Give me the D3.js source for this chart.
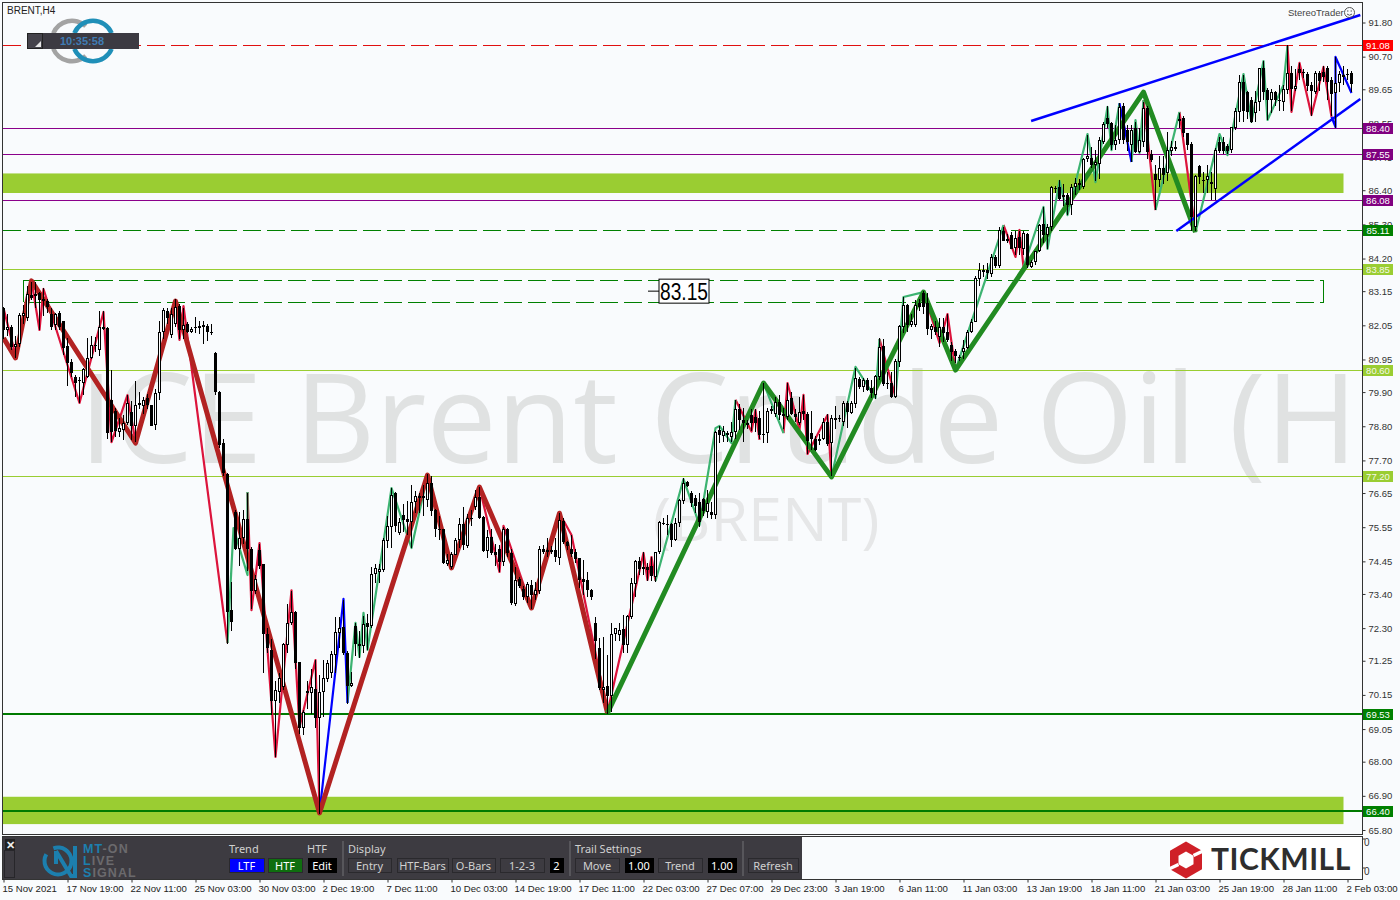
<!DOCTYPE html>
<html><head><meta charset="utf-8">
<script src="https://cdn.jsdelivr.net/npm/d3@7/dist/d3.min.js"></script>
<style>html,body{margin:0;padding:0;background:#f9fbfd;overflow:hidden}svg{display:block}text{font-family:"Liberation Sans",sans-serif}</style>
</head><body><svg id="c" width="1400" height="900"></svg>
<script>
// ---- candle values, one entry per H4 bar ----
const opens=[82.6,81.9,82.0,81.35,81.45,82.35,82.28,83.03,82.98,83.08,
82.82,82.83,82.4,82.05,82.45,82.2,81.37,80.88,80.4,80.3,
80.2,80.4,81.0,81.42,81.25,82.0,81.95,79.65,79.3,78.6,
78.68,78.9,79.27,78.8,79.55,79.45,79.7,79.48,78.83,79.87,
81.85,82.5,81.75,82.08,82.67,81.9,82.1,81.83,82.0,81.95,
82.05,82.03,81.85,81.15,79.9,78.25,77.25,72.88,76.05,74.85,
75.2,75.8,74.85,73.5,74.8,74.35,72.1,71.6,69.95,70.25,
70.4,71.75,72.45,72.82,71.2,69.07,70.27,70.2,70.35,69.4,
70.23,70.65,70.85,71.45,72.15,72.35,71.5,70.43,72.38,71.8,
71.73,72.45,72.38,74.03,74.12,74.17,75.1,75.55,76.65,75.35,
75.95,75.8,75.72,76.35,76.55,76.55,76.42,76.96,76.1,75.5,
75.48,74.38,74.28,74.66,75.14,75.64,74.94,75.84,76.19,76.51,
75.87,74.79,75.24,74.76,74.84,74.44,75.48,74.71,73.07,73.87,
73.55,73.31,73.69,73.37,73.5,74.84,74.82,74.82,74.82,74.57,
75.76,75.08,74.84,74.76,74.55,73.87,73.85,73.53,72.45,71.65,
70.3,70.44,70.1,72.1,72.07,72.26,71.76,72.67,73.72,74.46,
74.28,74.26,74.3,73.96,74.74,75.7,75.66,75.66,75.14,75.67,
76.4,77.0,76.66,76.48,76.37,76.45,76.05,76.05,75.94,78.68,
78.5,78.57,78.44,78.6,79.37,79.0,78.84,79.16,79.1,79.08,
78.55,78.57,79.3,79.2,79.59,79.2,79.1,79.7,79.2,78.91,
79.3,79.2,78.57,78.38,78.33,78.4,78.95,78.25,79.05,79.08,
78.93,79.56,79.24,79.52,80.31,80.07,80.28,80.02,79.8,80.4,
81.38,80.2,80.2,79.75,80.88,82.0,82.7,82.06,82.06,82.78,
83.1,82.78,81.9,82.0,81.66,82.0,81.84,81.41,81.22,81.03,
81.2,81.31,81.84,82.17,83.53,83.83,83.83,83.7,84.25,83.95,
85.09,84.82,84.95,84.55,84.9,84.52,85.0,83.92,84.1,84.44,
85.3,84.95,85.2,86.46,86.5,86.19,86.24,85.92,86.5,86.62,
86.5,87.39,87.45,87.2,87.26,87.96,88.71,88.55,87.85,88.03,
89.1,88.35,87.85,88.39,87.63,87.96,89.06,87.58,86.92,86.72,
87.1,86.96,87.67,87.8,88.69,88.71,88.23,87.9,85.22,87.17,
86.74,86.73,86.66,86.45,87.96,87.96,87.82,87.71,88.39,88.92,
89.89,89.57,89.32,88.87,89.25,90.32,89.62,89.3,89.57,89.32,
89.25,89.64,90.19,89.67,90.29,90.21,90.14,89.78,89.57,90.19,
90.21,90.32,89.96,89.53,89.84,90.1,90.13,90.19];
const highs=[82.65,82.4,82.05,81.7,82.45,82.7,83.3,83.45,83.45,83.13,
83.25,82.9,82.6,82.45,82.5,82.2,81.63,80.95,80.45,80.4,
80.68,81.65,81.7,81.68,82.5,82.5,82.0,80.6,79.4,79.05,
79.15,79.8,79.6,80.25,79.9,79.75,79.85,79.5,80.0,82.2,
82.6,82.6,82.6,82.9,82.75,82.6,82.15,82.0,82.33,82.18,
82.18,82.1,82.1,81.2,79.95,78.4,77.3,73.8,76.1,76.05,
76.1,76.65,74.9,74.0,75.0,74.37,72.3,71.95,70.6,70.85,
71.83,73.07,73.5,72.85,71.2,69.67,70.6,71.0,71.27,70.8,
71.27,71.27,71.55,72.67,72.67,73.2,71.55,70.9,72.45,72.2,
72.7,72.77,74.27,74.35,74.35,75.2,75.9,76.8,76.67,75.85,
76.3,76.4,76.9,76.7,76.65,76.9,77.25,77.2,76.15,75.9,
75.5,74.7,74.75,75.2,75.83,76.19,75.99,76.1,76.75,76.83,
75.9,75.45,75.5,75.0,74.98,75.56,75.52,74.85,74.28,73.95,
73.65,73.8,73.85,73.8,74.95,74.98,75.19,74.95,75.19,76.0,
75.85,75.1,75.3,74.85,74.55,74.5,74.1,73.55,72.67,71.97,
72.0,71.43,72.45,72.3,72.45,72.72,72.72,73.93,74.5,74.6,
74.75,74.4,74.58,74.75,75.75,75.83,75.94,75.7,75.83,76.45,
77.12,77.05,76.7,76.6,76.64,76.5,76.75,76.35,78.65,78.82,
78.8,78.65,78.95,79.64,79.53,79.4,79.0,79.37,79.35,79.3,
80.18,79.4,79.45,79.75,79.8,79.4,80.18,79.9,79.35,79.75,
79.8,79.25,79.3,78.5,78.55,79.05,79.2,79.15,79.45,79.15,
79.6,79.6,79.6,80.66,80.4,80.35,80.35,80.3,80.45,81.63,
81.6,80.55,80.55,80.95,82.05,82.97,82.75,82.4,82.85,82.9,
83.15,83.1,82.1,82.2,82.3,82.3,82.4,81.5,81.3,81.1,
81.57,81.9,82.25,83.65,84.07,84.0,84.05,84.35,84.3,85.2,
85.2,85.0,85.05,85.1,85.1,85.1,85.03,84.15,84.45,85.3,
85.87,85.3,86.53,86.55,86.72,86.6,86.3,86.6,86.8,86.75,
87.45,88.17,87.8,87.7,88.1,88.6,89.1,88.6,88.5,89.2,
89.2,88.5,88.5,88.6,88.4,89.25,89.1,87.7,87.2,87.5,
87.5,88.28,88.0,88.0,88.9,88.8,88.25,87.95,86.9,87.2,
87.0,87.2,87.0,87.75,88.1,88.1,87.9,88.45,89.05,90.1,
90.1,89.6,89.4,89.6,90.35,90.55,89.7,89.65,89.6,89.8,
89.8,91.08,90.4,90.3,90.5,90.3,90.2,89.9,90.25,90.25,
90.4,90.4,90.05,90.7,90.25,90.4,90.3,90.25];
const lows=[81.6,81.7,81.25,81.0,81.35,82.1,82.2,82.85,82.6,81.9,
82.35,82.45,81.9,81.9,81.9,81.1,80.08,80.4,79.75,79.55,
79.8,80.35,80.95,81.2,81.05,81.9,78.4,78.3,78.45,78.45,
78.35,78.85,78.35,78.3,79.35,79.2,79.35,78.8,78.68,79.65,
81.6,82.1,81.65,82.0,81.6,81.6,81.8,81.8,81.8,81.77,
81.45,81.53,81.75,79.8,78.1,77.2,71.8,72.2,74.8,74.3,
75.0,74.15,72.9,73.4,74.2,70.85,71.5,69.5,68.15,69.9,
70.3,71.5,72.4,71.0,68.9,68.85,69.7,69.55,69.07,66.3,
69.45,70.55,70.7,70.85,71.65,71.45,69.85,70.4,71.4,71.35,
71.5,71.6,72.3,73.75,73.75,74.1,74.87,74.87,75.4,75.3,
75.4,75.3,74.87,76.0,76.0,75.9,76.2,75.9,75.25,75.15,
74.35,74.3,74.2,74.65,74.87,74.82,74.87,75.6,76.1,75.8,
74.75,74.57,74.65,74.3,74.12,74.3,74.6,73.05,73.0,73.6,
73.2,73.1,72.9,73.2,73.4,74.7,74.6,74.7,74.44,74.33,
75.0,74.8,74.6,74.4,73.6,73.37,73.3,73.2,71.3,70.3,
69.9,69.55,69.6,71.9,71.9,71.5,71.5,72.6,73.3,74.0,
74.0,73.83,73.83,73.8,74.7,75.62,75.3,74.9,75.1,75.55,
76.3,76.85,76.2,76.0,75.57,75.9,75.83,75.8,75.8,78.25,
78.3,78.3,78.3,78.4,78.68,78.3,78.7,78.65,78.6,78.4,
78.27,78.25,79.2,79.1,79.0,78.7,79.0,79.15,78.95,78.85,
79.0,77.9,78.03,78.0,78.2,78.35,78.15,77.2,78.7,78.95,
78.8,78.73,79.2,79.4,80.0,79.9,79.95,79.7,79.67,80.3,
80.1,80.0,79.7,79.7,80.7,81.8,81.85,82.0,82.0,82.5,
82.4,81.75,81.6,81.75,81.35,81.5,81.5,80.9,80.85,80.9,
80.98,81.3,81.8,82.17,83.3,83.6,83.55,83.6,83.9,83.9,
84.75,84.7,84.5,84.3,84.3,84.3,83.9,83.9,84.0,84.4,
84.7,84.5,85.1,86.3,86.1,85.9,85.6,85.6,86.25,86.4,
86.45,87.3,87.1,86.7,86.75,87.9,88.4,87.7,87.7,87.9,
87.9,87.65,87.3,87.6,87.6,87.8,87.4,87.3,85.76,86.5,
86.6,86.7,87.5,87.65,88.4,88.1,87.7,85.1,85.1,86.6,
86.3,86.3,86.1,86.1,87.6,87.55,87.55,87.6,88.35,88.6,
88.6,88.7,88.55,88.6,88.95,89.3,88.65,88.9,89.1,88.95,
88.95,89.5,88.95,89.6,89.95,90.0,89.6,88.8,89.5,89.6,
89.9,89.3,88.8,88.4,89.55,89.8,89.95,89.55];
const closes=[81.9,82.0,81.35,81.45,82.38,82.45,83.05,82.93,83.05,82.85,
82.9,82.65,82.0,82.4,82.0,81.33,80.85,80.5,80.2,80.25,
80.65,81.0,81.4,81.38,82.0,81.93,78.58,78.6,78.65,78.75,
78.9,79.55,78.8,79.48,79.48,79.65,79.48,78.82,79.87,81.85,
82.55,82.28,82.4,82.65,81.9,82.05,81.83,81.92,81.96,82.03,
82.0,81.85,81.8,79.9,78.2,77.3,72.83,72.5,74.85,75.2,
75.8,74.85,73.5,73.87,74.3,72.1,71.65,69.95,70.3,70.7,
71.8,72.48,72.82,71.17,69.07,69.6,70.2,70.4,69.42,70.23,
70.68,71.17,71.47,72.18,72.3,71.5,70.43,70.52,71.8,71.73,
72.42,72.35,74.03,74.25,74.2,75.13,75.58,76.6,75.58,75.72,
75.78,75.72,76.37,76.55,76.48,76.48,76.96,76.08,75.48,75.45,
74.4,74.48,74.7,75.14,75.64,74.97,75.83,75.8,76.51,75.83,
74.79,75.24,74.73,74.65,74.44,75.48,74.71,73.1,73.85,73.66,
73.31,73.71,73.37,73.53,74.85,74.76,74.76,74.76,74.58,75.78,
75.08,74.94,74.69,74.51,73.85,73.8,73.53,73.31,71.9,70.36,
70.4,70.1,72.1,72.3,72.24,71.76,72.69,73.74,74.46,74.19,
74.2,74.17,73.98,74.74,75.71,75.67,75.62,75.14,75.7,76.42,
76.96,76.88,76.34,76.24,75.73,76.08,76.32,75.94,78.62,78.52,
78.65,78.52,78.6,79.34,79.0,78.9,78.91,78.9,78.9,78.52,
78.52,79.3,79.37,79.59,79.16,79.12,79.66,79.2,79.1,79.27,
79.19,78.33,78.38,78.03,78.4,78.95,78.22,79.08,79.08,79.02,
79.56,79.27,79.56,80.34,80.05,80.28,79.98,79.86,80.42,81.36,
80.16,80.16,79.75,80.9,82.03,82.7,82.06,82.2,82.7,82.65,
82.65,81.92,82.03,81.84,82.0,81.8,81.57,81.2,81.06,81.01,
81.31,81.84,82.17,83.56,83.83,83.78,83.72,84.25,83.95,85.11,
84.77,84.77,84.52,84.85,84.55,85.02,83.99,84.1,84.44,85.27,
84.95,85.2,86.5,86.44,86.13,86.26,85.92,86.5,86.64,86.56,
87.39,87.5,87.2,87.31,88.01,88.53,88.53,87.85,88.03,89.08,
88.03,87.95,88.35,87.63,88.01,89.06,87.63,87.37,86.72,87.1,
86.88,87.71,87.8,87.74,88.63,88.23,87.85,85.54,86.85,86.81,
86.7,86.85,86.6,87.69,87.66,87.66,87.66,88.42,88.95,89.89,
88.96,88.92,88.6,89.25,90.32,89.57,89.3,89.57,89.3,89.27,
89.67,90.18,89.67,89.75,90.16,90.16,89.76,89.6,90.19,89.92,
90.05,89.89,89.5,89.84,90.14,90.03,90.12,89.81];

// ---- zigzag overlays as [bar, price] turning points ----
const redThick=[[0,81.64],[3,81.0],[7,83.48],[33,78.26],[43,82.83],[79,66.35],[106,77.23],[112,74.24],[119,76.84],[124.7,75.14],[132,72.95],[139,76.0],[151,69.57]];
const greenThick=[[151,69.57],[190,80.19],[207,77.17],[230,83.12],[238,80.61],[285,89.56],[298,85.05]];
const thinRed=[
[[0,82.6],[3,81.09],[7,83.48],[9,81.9],[10,83.22],[19,79.55],[25,82.48],[27,78.29],[31,79.8],[33,78.29],[43,82.83],[44,81.58],[45,82.67],[56,71.82]],
[[61,76.68],[62,72.88],[64,75.04],[68,68.15],[72,73.52],[74,69.12],[78,71.27],[79,66.35]],
[[106,77.23],[112,74.24],[119,76.84],[124,74.11],[125,75.59],[132,72.95],[139,76.0],[142,75.3],[151,69.6],[160,74.72],[161,73.85],[162,74.59],[163,73.82]],
[[183,79.65],[187,78.63],[188,79.32],[189,78.36]],
[[195,78.58],[196,80.19],[199,78.68],[200,79.81],[201,77.91],[206,79.16],[207,77.17]],
[[219,81.61],[223,79.74]],
[[230,83.12],[234,81.48],[236,82.41],[238,80.61]],
[[250,85.28],[253,84.25],[254,85.12],[255,83.93]],
[[285,89.3],[288,85.76]],
[[294,88.92],[298,85.05]],
[[321,91.04],[322,88.92],[324,90.5],[327,88.82],[330,90.37],[332,88.76]]];
const thinGreen=[
[[56,71.82],[57.5,75.52],[61,74.01],[61,76.68]],
[[86,69.89],[88,72.47],[89,71.37],[90,72.79],[91,71.6],[97,76.81],[102,74.88],[106,77.23]],
[[163,73.82],[170,77.1],[174,75.62],[178,78.74],[179,78.81],[182,78.26],[183,79.65]],
[[190,80.19],[195,78.58]],
[[207,77.17],[213,80.71],[218,79.71],[219,81.61]],
[[223,79.74],[225,82.96],[230,83.12]],
[[238,80.61],[250,85.28]],
[[255,83.93],[260,85.86],[261,84.51],[264,86.7],[266,85.6],[271,88.21],[273,86.66],[276,89.08],[277,87.69],[279,89.2]],
[[282,87.31],[283,88.66],[284,87.6],[285,89.3]],
[[288,85.76],[294,88.92]],
[[298,85.05],[304,88.21],[306,87.53],[310,90.14],[312,88.6],[315,90.56],[316,88.66],[320,89.79],[321,91.04]]];
const thinBlue=[
[[79,66.35],[85,73.24],[86,69.89]],
[[279,89.2],[282,87.31]],
[[332,88.76],[333,88.43],[333,90.69],[337,89.53]]];
const trendUpper=[[256.9,88.63],[339.2,92.04]];
const trendLower=[[293.2,85.09],[339.2,89.34]];

// ---- levels, zones, axis labels ----
const levelPrices=[91.08,88.40,87.55,86.08,85.11,83.85,80.60,77.20,69.53,66.40];
const levelLabels=["91.08","88.40","87.55","86.08","85.11","83.85","80.60","77.20","69.53","66.40"];
const levelKinds=["red","purple","purple","purple","greenDash","lime","lime","lime","green","green"];
const zoneTops=[86.94,66.87];
const zoneBottoms=[86.31,65.99];
const priceTicks=[91.80,90.70,89.65,88.55,87.45,86.40,85.30,84.20,83.15,82.05,80.95,79.90,78.80,77.70,76.65,75.55,74.45,73.40,72.30,71.25,70.15,69.05,68.00,66.90,65.80];
const timeLabels=["15 Nov 2021","17 Nov 19:00","22 Nov 11:00","25 Nov 03:00","30 Nov 03:00","2 Dec 19:00","7 Dec 11:00","10 Dec 03:00","14 Dec 19:00","17 Dec 11:00","22 Dec 03:00","27 Dec 07:00","29 Dec 23:00","3 Jan 19:00","6 Jan 11:00","11 Jan 03:00","13 Jan 19:00","18 Jan 11:00","21 Jan 03:00","25 Jan 19:00","28 Jan 11:00","2 Feb 03:00"];
const barsPerLabel=16;
const channelBars=[5,330], channelPrices=[83.51,82.79], channelMid=83.15;

const svg=d3.select("#c");
const x=d3.scaleLinear().domain([0,337]).range([3.5,1351.5]);
const y=d3.scaleLinear().domain([65.8,91.8]).range([830,22.5]);
const PL=2,PR=1362,PT=2,PB=834;
const kindStyle={red:{c:"#e01010",w:1,d:"18 6"},purple:{c:"#8b008b",w:1},greenDash:{c:"#008000",w:1,d:"18 6"},lime:{c:"#9acd32",w:1},green:{c:"#007a00",w:2}};
const badgeFill={red:"#ff0000",purple:"#800080",greenDash:"#008000",lime:"#9acd32",green:"#008000"};

svg.append("defs").append("clipPath").attr("id","plot").append("rect").attr("x",PL+1).attr("y",PT+1).attr("width",PR-PL-1).attr("height",PB-PT-1);
const plot=svg.append("g").attr("clip-path","url(#plot)");

// watermark
plot.append("text").attr("x",79).attr("y",463).attr("font-size",125).attr("fill","#e0e2e2").style("font-family","'Open Sans'").text("ICE Brent Crude Oil (H");
plot.append("text").attr("x",653).attr("y",541).attr("font-size",61).attr("fill","#e6e7e8").style("font-family","'Open Sans'").text("(BRENT)");

// zones
plot.selectAll("rect.zone").data(zoneTops).join("rect").attr("class","zone")
 .attr("x",3).attr("width",x(335)-3).attr("y",d=>y(d)).attr("height",(d,i)=>y(zoneBottoms[i])-y(d)).attr("fill","#9acd32");

// levels
const lvlY=(p,k)=>Math.round(y(p))+(kindStyle[k].w===2?0:.5);
plot.selectAll("line.level").data(levelPrices).join("line").attr("class","level")
 .attr("x1",3).attr("x2",PR).attr("y1",(d,i)=>lvlY(d,levelKinds[i])).attr("y2",(d,i)=>lvlY(d,levelKinds[i]))
 .attr("stroke",(d,i)=>kindStyle[levelKinds[i]].c).attr("stroke-width",(d,i)=>kindStyle[levelKinds[i]].w)
 .attr("stroke-dasharray",(d,i)=>kindStyle[levelKinds[i]].d||null).attr("shape-rendering","crispEdges");

// dashed channel
const cx0=x(channelBars[0]),cx1=x(channelBars[1]);
channelPrices.forEach(p=>plot.append("line").attr("x1",cx0).attr("x2",cx1).attr("y1",Math.round(y(p))+.5).attr("y2",Math.round(y(p))+.5).attr("stroke","#008000").attr("stroke-dasharray","18 6").attr("shape-rendering","crispEdges"));
[cx0,cx1].forEach(v=>plot.append("line").attr("x1",v).attr("x2",v).attr("y1",y(channelPrices[0])).attr("y2",y(channelPrices[1])).attr("stroke","#008000").attr("shape-rendering","crispEdges"));

// zigzags
const line=d3.line().x(d=>x(d[0])).y(d=>y(d[1]));
const drawLine=(pts,c,w)=>plot.append("path").attr("d",line(pts)).attr("fill","none").attr("stroke",c).attr("stroke-width",w).attr("stroke-linejoin","round");
thinRed.forEach(s=>drawLine(s,"#dc143c",2.2));
thinGreen.forEach(s=>drawLine(s,"#3cb371",2.2));
thinBlue.forEach(s=>drawLine(s,"#0000ff",2.2));
drawLine(redThick,"#b22222",5);
drawLine(greenThick,"#228b22",5);
drawLine(trendUpper,"#0000ff",2.5);
drawLine(trendLower,"#0000ff",2.5);

// candles
const cg=plot.append("g").attr("shape-rendering","crispEdges");
opens.forEach((o,i)=>{
 const c=closes[i],cx=x(i),up=c>=o;
 cg.append("line").attr("x1",cx).attr("x2",cx).attr("y1",y(highs[i])).attr("y2",y(lows[i])).attr("stroke","#000");
 const t=Math.round(y(Math.max(o,c))),b=Math.max(Math.round(y(Math.min(o,c))),t+1);
 if(up) cg.append("rect").attr("x",cx-1).attr("y",t+.5).attr("width",2).attr("height",Math.max(b-t-1,1)).attr("fill","#fff").attr("stroke","#000");
 else cg.append("rect").attr("x",cx-1.5).attr("y",t).attr("width",3).attr("height",b-t).attr("fill","#000");
});

// 83.15 label
const my=y(channelMid);
plot.append("line").attr("x1",648).attr("x2",659).attr("y1",my).attr("y2",my).attr("stroke","#000");
plot.append("rect").attr("x",659).attr("y",my-12).attr("width",50).attr("height",24).attr("fill","#fff").attr("stroke","#000");
plot.append("text").attr("x",660).attr("y",my+8.5).attr("font-size",23.5).attr("textLength",48).attr("lengthAdjust","spacingAndGlyphs").attr("fill","#000").text(channelMid.toFixed(2));

// logo rings + timer box
const arc=d3.arc();
const ring=(cx,col,ranges)=>ranges.forEach(r=>svg.append("path").attr("transform",`translate(${cx},41)`)
 .attr("d",arc({innerRadius:18,outerRadius:22.5,startAngle:r[0]*Math.PI/180,endAngle:r[1]*Math.PI/180})).attr("fill",col));
ring(72,"#a3a3a3",[[-68,43],[137,248]]);
ring(93,"#1f8fb8",[[-67,67],[113,247]]);
svg.append("rect").attr("x",27).attr("y",33).attr("width",112).attr("height",16).attr("fill","#3c3a42");
svg.append("rect").attr("x",27.5).attr("y",33.5).attr("width",15).attr("height",15).attr("fill","#45434b").attr("stroke","#222");
svg.append("path").attr("d",d3.line()([[35,47],[41,47],[41,41]])+"Z").attr("fill","#e6e6e6");
svg.append("text").attr("x",82).attr("y",44.5).attr("text-anchor","middle").attr("font-size",11).attr("font-weight","bold").attr("fill","#3f7cb4").text("10:35:58");

// plot labels
svg.append("text").attr("x",7).attr("y",14).attr("font-size",10).attr("fill","#222").text("BRENT,H4");
svg.append("text").attr("x",1288).attr("y",15.5).attr("font-size",9.5).attr("fill","#444").text("StereoTrader");
svg.append("circle").attr("cx",1349.5).attr("cy",12.5).attr("r",5).attr("fill","none").attr("stroke","#555");
svg.append("path").attr("d","M1347 14 Q1349.5 16.5 1352 14").attr("fill","none").attr("stroke","#555");
svg.append("circle").attr("cx",1347.8).attr("cy",11).attr("r",.7).attr("fill","#555");
svg.append("circle").attr("cx",1351.2).attr("cy",11).attr("r",.7).attr("fill","#555");

// frames
svg.append("rect").attr("x",PL+.5).attr("y",PT+.5).attr("width",PR-PL).attr("height",PB-PT).attr("fill","none").attr("stroke","#333");
svg.append("rect").attr("x",PL+.5).attr("y",836.5).attr("width",PR-PL).attr("height",43).attr("fill","none").attr("stroke","#333");

// price axis
const ya=svg.append("g").attr("transform",`translate(${PR+.5},0)`).call(d3.axisRight(y).tickValues(priceTicks).tickFormat(d3.format(".2f")).tickSize(3).tickPadding(3));
ya.select(".domain").remove();
ya.selectAll("line").attr("stroke","#333");
ya.selectAll("text").attr("font-size",9.5).attr("fill","#333").style("font-family","'Liberation Sans'");

// level badges
const bg=svg.append("g");
levelPrices.forEach((p,i)=>{
 const k=levelKinds[i],yy=Math.round(y(p));
 bg.append("rect").attr("x",1363).attr("y",yy-5).attr("width",30).attr("height",11).attr("fill",badgeFill[k]);
 bg.append("text").attr("x",1378).attr("y",yy+4).attr("text-anchor","middle").attr("font-size",9.5).attr("fill",k==="lime"?"#f4f8e8":"#fff").text(levelLabels[i]);
});

// time axis
const xa=svg.append("g").attr("transform","translate(0,879.5)").call(d3.axisBottom(x).tickValues(timeLabels.map((d,i)=>i*barsPerLabel)).tickFormat((d,i)=>timeLabels[i]).tickSize(3).tickPadding(3));
xa.select(".domain").remove();
xa.selectAll("line").attr("stroke","#333");
xa.selectAll("text").attr("text-anchor","start").attr("dx",-1.5).attr("font-size",9.6).attr("fill","#222").style("font-family","'Liberation Sans'");

// sub-window scale
[843,872].forEach(v=>{svg.append("text").attr("x",1364).attr("y",v+3).attr("font-size",10).attr("fill","#333").text("0");
 svg.append("line").attr("x1",1362).attr("x2",1365).attr("y1",v-4).attr("y2",v-4).attr("stroke","#333");});

// control panel
const P=svg.append("g");
P.append("rect").attr("x",3).attr("y",837).attr("width",799).attr("height",42).attr("fill","#3d3b41");
P.append("rect").attr("x",4.5).attr("y",850.5).attr("width",10).attr("height",27).attr("fill","#3d3b41").attr("stroke","#27262a");
P.append("rect").attr("x",5).attr("y",839).attr("width",10).attr("height",11).attr("fill","#222");
P.append("text").attr("x",10).attr("y",848.5).attr("text-anchor","middle").attr("font-size",11).attr("font-weight","bold").attr("fill","#eee").text("✕");
// panel logo
P.append("path").attr("transform","translate(58,861)").attr("d",arc({innerRadius:11.5,outerRadius:15.5,startAngle:-20*Math.PI/180,endAngle:300*Math.PI/180})).attr("fill","#1c7fae");
P.append("path").attr("d","M56 851 L56 864 M56 851 L71 876 L75 876 L75 846").attr("fill","none").attr("stroke","#1c7fae").attr("stroke-width",4);
const logoRows=[["MT","-ON",853],["L","IVE",865],["S","IGNAL",877]];
logoRows.forEach(r=>{const t=P.append("text").attr("x",83).attr("y",r[2]).attr("font-size",12.5).attr("font-weight","bold").attr("letter-spacing",1.1).style("font-family","'Liberation Sans'");
 t.append("tspan").attr("fill","#1c7fae").text(r[0]);t.append("tspan").attr("fill","#6b6a6d").text(r[1]);});
const heads=[["Trend",229],["HTF",307],["Display",348],["Trail Settings",575]];
heads.forEach(h=>P.append("text").attr("x",h[1]).attr("y",853).attr("font-size",11).attr("fill","#d0d0d0").style("font-family","'Noto Sans'").text(h[0]));
const seps=[342,569,742];
seps.forEach(s=>P.append("rect").attr("x",s).attr("y",841).attr("width",2).attr("height",35).attr("fill","#57565b"));
const buttons=[["LTF",229,264,"#0000ff","#fff"],["HTF",268,302,"#0f6e0f","#fff"],["Edit",308,336,"#000","#fff"],["Entry",348,391,"none","#d0d0d0"],["HTF-Bars",397,448,"none","#d0d0d0"],["O-Bars",452,495,"none","#d0d0d0"],["1-2-3",500,544,"none","#d0d0d0"],["2",550,563,"#000","#fff"],["Move",575,619,"none","#d0d0d0"],["1.00",625,653,"#000","#fff"],["Trend",658,702,"none","#d0d0d0"],["1.00",708,736,"#000","#fff"],["Refresh",748,798,"none","#d0d0d0"]];
buttons.forEach(b=>{
 P.append("rect").attr("x",b[1]+.5).attr("y",858.5).attr("width",b[2]-b[1]).attr("height",14).attr("fill",b[3]).attr("stroke",b[3]==="#000"?"#000":"#2a292d");
 P.append("text").attr("x",(b[1]+b[2])/2).attr("y",869.5).attr("text-anchor","middle").attr("font-size",11).attr("fill",b[4]).style("font-family","'Noto Sans'").text(b[0]);
});

// Tickmill logo
const T=svg.append("g");
T.append("rect").attr("x",1170).attr("y",837).attr("width",190).attr("height",42).attr("fill","#fff");
const hex=(cx,cy,rx,ry)=>[[cx,cy-ry],[cx+rx,cy-ry/2],[cx+rx,cy+ry/2],[cx,cy+ry],[cx-rx,cy+ry/2],[cx-rx,cy-ry/2]];
T.append("polygon").attr("points",hex(1186,860,16,18.5).join(" ")).attr("fill","#cf2027");
T.append("polygon").attr("points",hex(1186,860,7.5,8.5).join(" ")).attr("fill","#fff");
T.append("path").attr("d","M1193.5 855.5 L1203 851 M1178.5 864.5 L1169 869").attr("stroke","#fff").attr("stroke-width",3.5);
T.append("text").attr("x",1211).attr("y",870).attr("font-size",30).attr("font-weight","bold").attr("letter-spacing",.5).attr("fill","#2e2e2e").style("font-family","'Lato'").text("TICKMILL");
</script></body></html>
